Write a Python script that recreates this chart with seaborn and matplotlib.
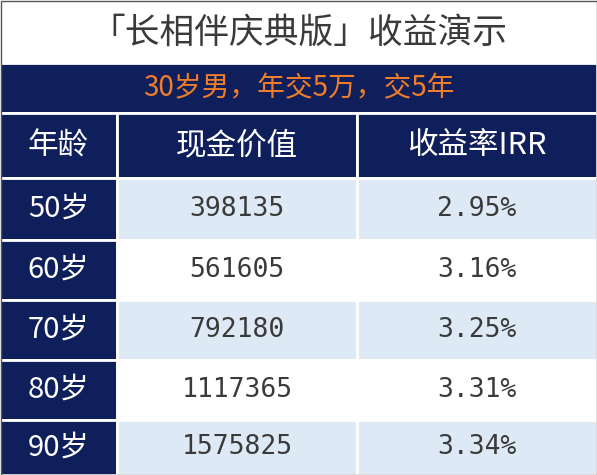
import matplotlib
matplotlib.use("Agg")
import matplotlib.pyplot as plt
import seaborn as sns
from matplotlib.patches import Rectangle

sns.set_theme(style="white")
plt.rcParams['font.family'] = ['Noto Sans CJK SC', 'DejaVu Sans']

title = "「长相伴庆典版」收益演示"
subtitle = "30岁男，年交5万，交5年"
headers = ["年龄", "现金价值", "收益率IRR"]
ages = ["50岁", "60岁", "70岁", "80岁", "90岁"]
cash = ["398135", "561605", "792180", "1117365", "1575825"]
irr = ["2.95%", "3.16%", "3.25%", "3.31%", "3.34%"]

W, H = 597, 475
fig = plt.figure(figsize=(W/100, H/100), dpi=100)
ax = fig.add_axes([0, 0, 1, 1])
ax.set_xlim(0, W); ax.set_ylim(H, 0); ax.axis('off')

navy = "#0f1f5c"; light = "#dde9f5"; txt = "#3a3a3a"
cols = [0, 117, 357, 597]
rows = [178, 240, 300, 360, 420, 475]
mono = ['DejaVu Sans Mono', 'Noto Sans CJK SC']

def cell(x0, y0, x1, y1, c):
    ax.add_patch(Rectangle((x0, y0), x1-x0, y1-y0, facecolor=c, edgecolor="white", lw=2))

cell(0, 0, W, 63, "white")
ax.text(W/2, 33, title, ha='center', va='center', fontsize=25, color=txt)
cell(0, 63, W, 113, navy)
ax.text(W/2, 88, subtitle, ha='center', va='center', fontsize=20, color="#f07d2a")
for j, h in enumerate(headers):
    cell(cols[j], 113, cols[j+1], 178, navy)
    ax.text((cols[j]+cols[j+1])/2, 146, h, ha='center', va='center', fontsize=22, color="white")
for i in range(len(ages)):
    y0, y1 = rows[i], rows[i+1]
    ym = (y0+y1)/2
    bg = light if i % 2 == 0 else "white"
    cell(cols[0], y0, cols[1], y1, navy)
    ax.text((cols[0]+cols[1])/2, ym, ages[i], ha='center', va='center', fontsize=21, color="white")
    for j, v in ((1, cash[i]), (2, irr[i])):
        cell(cols[j], y0, cols[j+1], y1, bg)
        ax.text((cols[j]+cols[j+1])/2, ym, v, ha='center', va='center', fontsize=19,
                color=txt, family=mono)
ax.add_patch(Rectangle((0.5, 0.5), W-1, H-1, fill=False, edgecolor="#555555", lw=1))
fig.savefig("out.png", dpi=100)
